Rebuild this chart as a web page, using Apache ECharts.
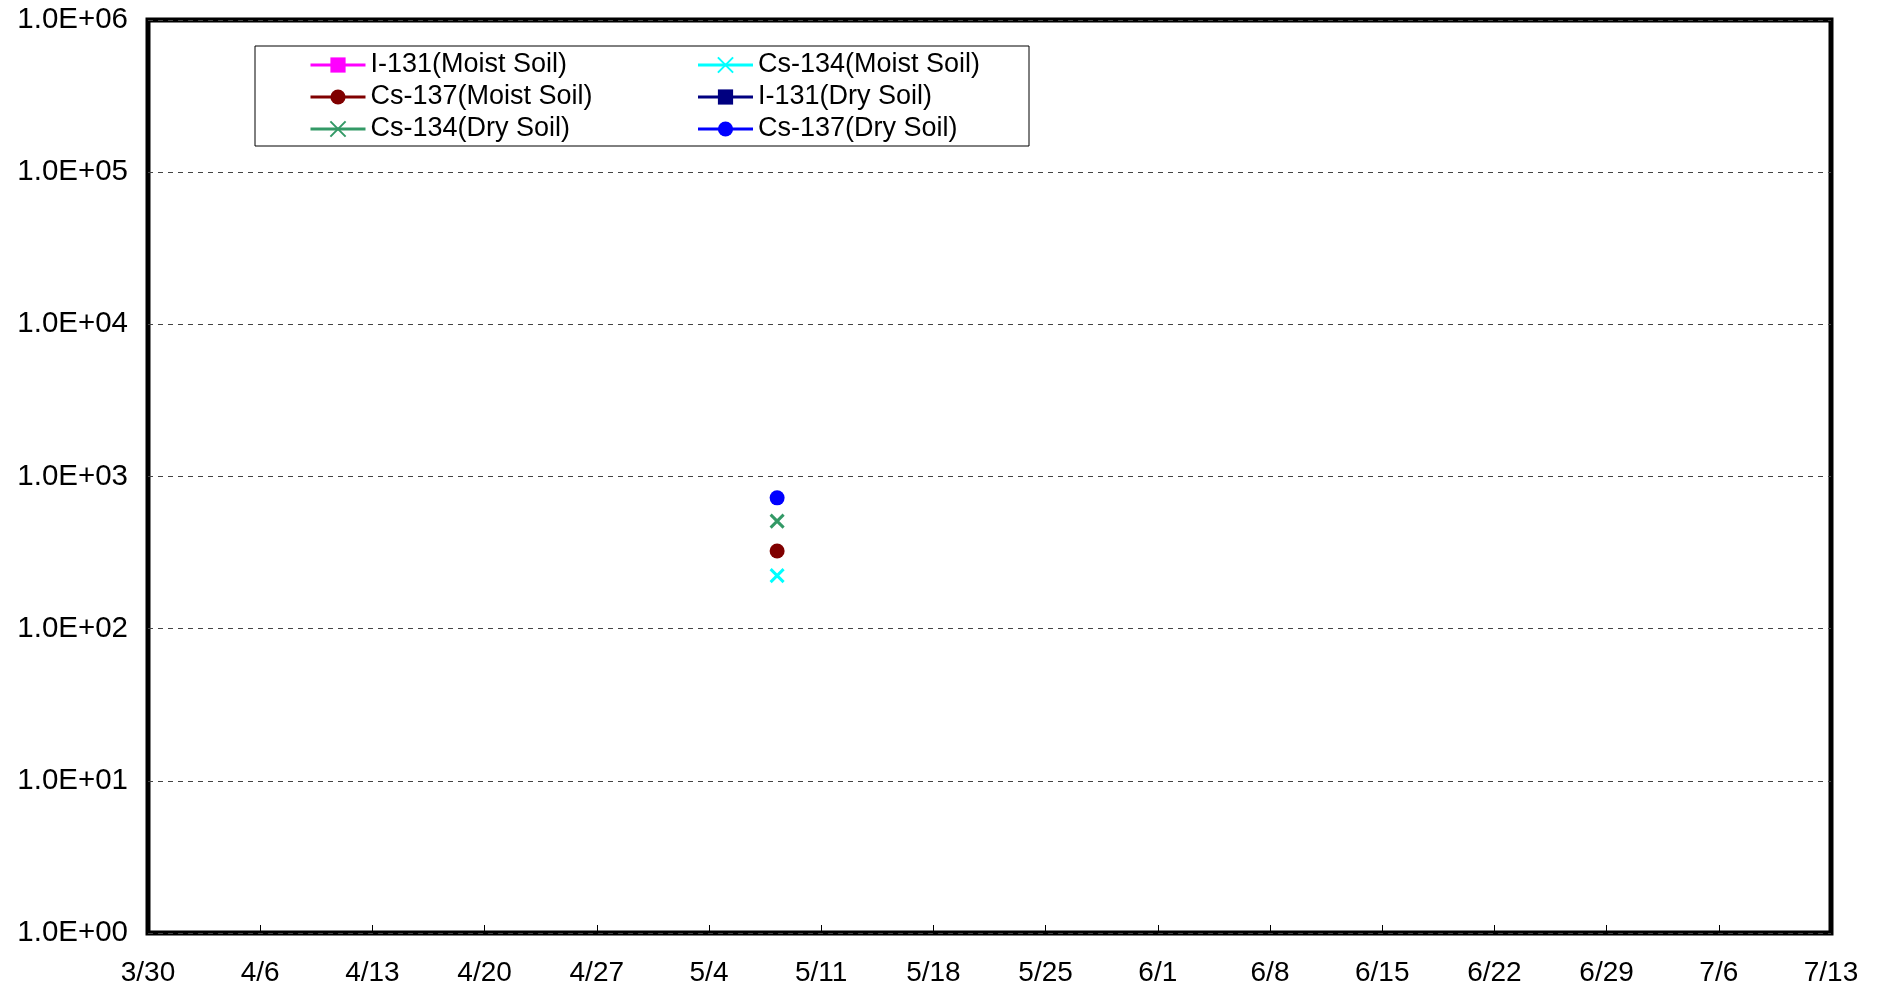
<!DOCTYPE html>
<html>
<head>
<meta charset="utf-8">
<title>Soil activity</title>
<script src="https://cdn.jsdelivr.net/npm/echarts@6/dist/echarts.min.js"></script>
<style>
  html, body { margin: 0; padding: 0; background: #ffffff; }
  #chart { width: 1883px; height: 994px; }
</style>
</head>
<body>
<div id="chart"></div>
<script>
  // x ticks: 3/30 .. 7/13, one week apart
  var tickLabels = ['3/30', '4/6', '4/13', '4/20', '4/27', '5/4', '5/11', '5/18', '5/25', '6/1', '6/8', '6/15', '6/22', '6/29', '7/6', '7/13'];
  var seriesNames = ['I-131(Moist Soil)', 'Cs-134(Moist Soil)', 'Cs-137(Moist Soil)', 'I-131(Dry Soil)', 'Cs-134(Dry Soil)', 'Cs-137(Dry Soil)'];
  var sampleDates = ['5/8 6:00'];
  var i131Moist = [null];
  var cs134Moist = [223];
  var cs137Moist = [324];
  var i131Dry = [null];
  var cs134Dry = [509];
  var cs137Dry = [724];

  var YEAR = 2011;
  function dayOf(s) {
    var parts = s.split(' ');
    var p = parts[0].split('/');
    var hrs = parts[1] ? +parts[1].split(':')[0] : 0;
    return (Date.UTC(YEAR, +p[0] - 1, +p[1], hrs) - Date.UTC(YEAR, 2, 30)) / 86400000;
  }
  function pairs(vals) {
    var out = [];
    sampleDates.forEach(function (d, i) {
      if (vals[i] != null) out.push([dayOf(d), vals[i]]);
    });
    return out;
  }

  var crossPath = 'path://M0,0L10,10M10,0L0,10';
  var styles = [
    {color: '#ff00ff', symbol: 'rect', size: 13},
    {color: '#00ffff', symbol: crossPath, size: 13},
    {color: '#800000', symbol: 'circle', size: 15},
    {color: '#000080', symbol: 'rect', size: 13},
    {color: '#339966', symbol: crossPath, size: 13},
    {color: '#0000ff', symbol: 'circle', size: 15}
  ];
  var values = [i131Moist, cs134Moist, cs137Moist, i131Dry, cs134Dry, cs137Dry];

  var series = seriesNames.map(function (name, i) {
    var st = styles[i];
    var isCross = st.symbol === crossPath;
    return {
      name: name,
      type: 'line',
      data: pairs(values[i]),
      symbol: st.symbol,
      symbolSize: st.size,
      showSymbol: true,
      lineStyle: {color: st.color, width: 3},
      itemStyle: {
        color: isCross ? 'rgba(0,0,0,0)' : st.color,
        borderColor: st.color,
        borderWidth: isCross ? 3 : 0
      },
      animation: false
    };
  });

  var chart = echarts.init(document.getElementById('chart'));
  var option = {
    backgroundColor: '#ffffff',
    textStyle: {fontFamily: 'Liberation Sans, Arial, sans-serif'},
    grid: {
      left: 148, right: 52, top: 20, bottom: 61,
      show: true, borderColor: '#000000', borderWidth: 5, backgroundColor: 'transparent'
    },
    legend: {
      left: 255, top: 46,
      width: 720,
      padding: [3, 6, 1, 54],
      itemGap: 0,
      itemWidth: 55,
      itemHeight: 19,
      borderColor: '#000000',
      borderWidth: 1,
      lineStyle: {width: 3},
      textStyle: {fontSize: 27, color: '#000000', lineHeight: 32},
      data: seriesNames.map(function (n, i) {
        return {name: n, textStyle: {width: i % 2 === 0 ? 326 : 265}};
      })
    },
    xAxis: {
      type: 'value',
      min: 0, max: 105, interval: 7,
      axisLine: {show: false},
      axisTick: {show: true, inside: true, length: 8, lineStyle: {color: '#000000', width: 1}},
      splitLine: {show: false},
      axisLabel: {
        fontSize: 28, color: '#000000', margin: 26,
        formatter: function (v) { return tickLabels[Math.round(v / 7)]; }
      }
    },
    yAxis: {
      type: 'log',
      logBase: 10,
      min: 1, max: 1000000,
      axisLine: {show: false},
      axisTick: {show: false},
      splitLine: {show: true, lineStyle: {color: '#444444', width: 1, type: [5, 5]}},
      axisLabel: {
        fontSize: 29.5, color: '#000000', margin: 20,
        formatter: function (v) {
          var e = Math.round(Math.log10(v));
          return '1.0E+' + (e < 10 ? '0' + e : e);
        }
      }
    },
    series: series
  };
  chart.setOption(option);
</script>
</body>
</html>
